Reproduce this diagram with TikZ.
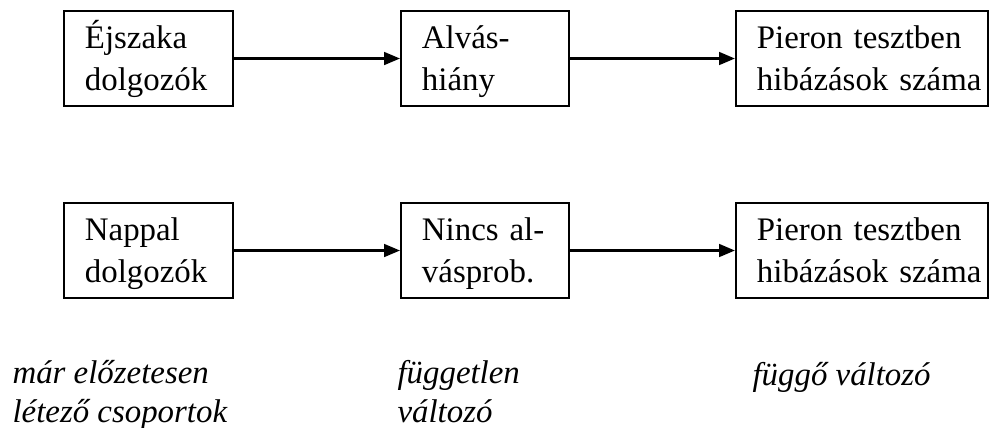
\documentclass[tikz,border=0pt]{standalone}
\usepackage{fontspec}
\setmainfont{Liberation Serif}
\usetikzlibrary{arrows.meta}

\newcommand{\betu}{\fontsize{12}{13.9}\selectfont}
\newcommand{\tamasz}{\rule[-3.33pt]{0pt}{14.33pt}}

\tikzset{
  doboz/.style={draw, line width=0.75pt, align=left, inner xsep=7.67pt,
    inner ysep=0pt, minimum height=34.7pt, font=\betu,
    execute at begin node=\tamasz, execute at end node=\tamasz},
  nyil/.style={line width=0.75pt, -{Triangle[length=5.8pt, width=4.7pt]}},
  felirat/.style={anchor=base west, align=left, inner sep=0pt, font=\betu\itshape}
}

\begin{document}
\begin{tikzpicture}[x=0.365pt, y=-0.365pt]
    \useasboundingbox (0, 0) rectangle (990, 427);

    % felso sor
    \node [doboz, text width=46.4pt] (ejszaka) at (148.5, 58.5) {Éjszaka\\dolgozók};
    \node [doboz, text width=46pt] (alvas) at (485, 58.5) {Alvás-\\hiány};
    \node [doboz, text width=76.7pt] (pieron1) at (862, 58.5) {Pieron~tesztben\\hibázások~száma};

    \draw [nyil] (ejszaka) to (alvas);
    \draw [nyil] (alvas) to (pieron1);

    % also sor
    \node [doboz, text width=46.4pt] (nappal) at (148.5, 250.5) {Nappal\\dolgozók};
    \node [doboz, text width=46pt] (nincs) at (485, 250.5) {Nincs al-\\vásprob.};
    \node [doboz, text width=76.7pt] (pieron2) at (862, 250.5) {Pieron~tesztben\\hibázások~száma};

    \draw [nyil] (nappal) to (nincs);
    \draw [nyil] (nincs) to (pieron2);

    % feliratok (base = utolso sor)
    \node [felirat] (csoport) at (12, 422) {már előzetesen\\létező csoportok};
    \node [felirat] (fuggetlen) at (397, 422) {független\\változó};
    \node [felirat] (fuggo) at (752, 385) {függő változó};

  \end{tikzpicture}
\end{document}
